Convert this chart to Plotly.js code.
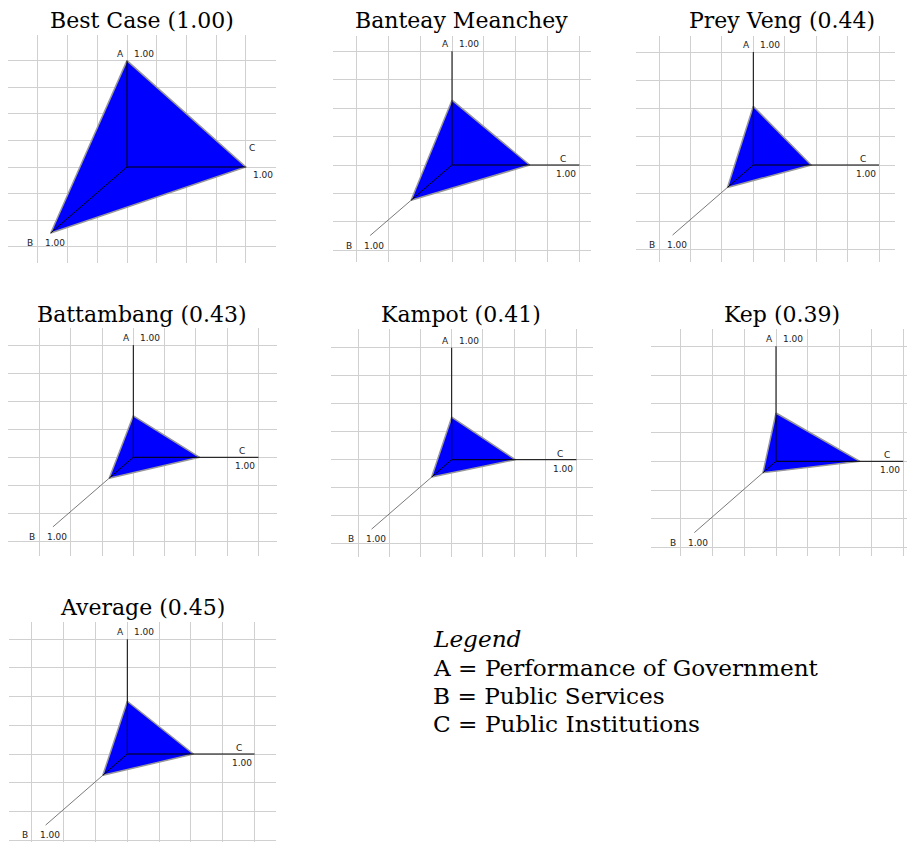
<!DOCTYPE html>
<html>
<head>
<meta charset="utf-8">
<script src="https://cdn.plot.ly/plotly-3.0.1.min.js"></script>
<style>html,body{margin:0;padding:0;background:#fff;}#chart{width:907px;height:842px;}</style>
</head>
<body>
<div id="chart"></div>
<script>
// ---- data ----
const regionNames = ["Best Case", "Banteay Meanchey", "Prey Veng", "Battambang", "Kampot", "Kep", "Average"];
const regionScores = [1.00, null, 0.44, 0.43, 0.41, 0.39, 0.45];
const valuesA = [1.00, 0.57, 0.52, 0.37, 0.38, 0.42, 0.46];
const valuesB = [1.00, 0.50, 0.32, 0.30, 0.25, 0.16, 0.30];
const valuesC = [1.00, 0.61, 0.46, 0.53, 0.51, 0.66, 0.52];
const axisMaxLabel = "1.00";
const legendKeys = ["A", "B", "C"];
const legendNames = ["Performance of Government", "Public Services", "Public Institutions"];
const legendTitle = "Legend";

// ---- layout geometry (pixels) ----
const W = 907, H = 842;
const L = 4;                 // grid units for a value of 1.00
const bDir = [-0.642, -0.62]; // oblique direction of axis B
const geo = [
  {ox:127,   oy:167,   sx:29.7,  sy:26.6,  x0:8,   x1:276, y0:35,  y1:263, tx:142,   ty:28,    best:true},
  {ox:452,   oy:165,   sx:31.86, sy:28.43, x0:333, x1:591, y0:36,  y1:262, tx:461.5, ty:28},
  {ox:753.3, oy:165,   sx:31.43, sy:28.24, x0:636, x1:895, y0:36,  y1:262, tx:781.5, ty:28},
  {ox:133.3, oy:457.3, sx:31.29, sy:28.04, x0:8,   x1:277, y0:328, y1:556, tx:142,   ty:321.7},
  {ox:451.7, oy:459.7, sx:31.19, sy:28.0,  x0:331, x1:593, y0:329, y1:557, tx:461,   ty:321.7},
  {ox:776,   oy:461.3, sx:31.8,  sy:28.76, x0:651, x1:907, y0:329, y1:556, tx:781.7, ty:321.7},
  {ox:127.3, oy:754,   sx:31.81, sy:28.67, x0:9,   x1:276, y0:622, y1:842, tx:142.5, ty:615}
];
const legendX = 432, legendBaselines = [646.7, 675, 703.3, 731.7];

const titleFont = {family: "DejaVu Serif", size: 22, color: "#000"};
const legendFont = {family: "DejaVu Serif", size: 23.2, color: "#000"};
const smallFont = {family: "DejaVu Sans", size: 9, color: "#222"};

const traces = [];
const layout = {
  width: W, height: H,
  margin: {l:0, r:0, t:0, b:0},
  paper_bgcolor: "#fff", plot_bgcolor: "#fff",
  showlegend: false, hovermode: false,
  annotations: []
};

regionNames.forEach((name, i) => {
  const g = geo[i];
  const s = i === 0 ? "" : String(i + 1);
  const xa = "x" + s, ya = "y" + s;
  const a = valuesA[i], b = valuesB[i], c = valuesC[i];
  const bEnd = [L * bDir[0], L * bDir[1]];
  const bPt = [L * b * bDir[0], L * b * bDir[1]];

  layout["xaxis" + s] = {
    domain: [g.x0 / W, g.x1 / W],
    range: [(g.x0 - g.ox) / g.sx, (g.x1 - g.ox) / g.sx],
    dtick: 1, tick0: 0, showgrid: true, gridcolor: "#d0d0d0", gridwidth: 1,
    zeroline: false, showline: false, showticklabels: false, ticks: "",
    fixedrange: true, anchor: ya
  };
  layout["yaxis" + s] = {
    domain: [1 - g.y1 / H, 1 - g.y0 / H],
    range: [(g.oy - g.y1) / g.sy, (g.oy - g.y0) / g.sy],
    dtick: 1, tick0: 0, showgrid: true, gridcolor: "#d0d0d0", gridwidth: 1,
    zeroline: false, showline: false, showticklabels: false, ticks: "",
    fixedrange: true, anchor: xa
  };

  // gray outer B axis
  traces.push({type: "scatter", mode: "lines", xaxis: xa, yaxis: ya,
    x: [0, bEnd[0]], y: [0, bEnd[1]], line: {color: "#7a7a7a", width: 1}});
  // filled triangle
  traces.push({type: "scatter", mode: "lines", xaxis: xa, yaxis: ya,
    x: [0, L * c, bPt[0], 0], y: [L * a, 0, bPt[1], L * a],
    fill: "toself", fillcolor: "#0000ff", line: {color: "#989898", width: 1.5}});
  // black axes A, C and inner B
  traces.push({type: "scatter", mode: "lines", xaxis: xa, yaxis: ya,
    x: [0, 0, null, 0, L, null, 0, bPt[0]],
    y: [0, L, null, 0, 0, null, 0, bPt[1]],
    line: {color: "#000", width: 1}});

  const ann = (x, y, text, xanchor, xshift, yshift) => layout.annotations.push({
    xref: xa, yref: ya, x: x, y: y, text: text, showarrow: false,
    xanchor: xanchor, yanchor: "middle", xshift: xshift, yshift: yshift,
    font: smallFont, borderpad: 0
  });
  // A labels
  ann(0, L, "A", "right", -2, 7);
  ann(0, L, axisMaxLabel, "left", 6, 7);
  // C labels
  if (g.best) {
    ann(L, 0, "C", "center", 6, 19);
    ann(L, 0, axisMaxLabel, "left", 6, -8);
  } else {
    ann(L, 0, "C", "center", -16, 6);
    ann(L, 0, axisMaxLabel, "right", -2, -9);
  }
  // B labels
  ann(bEnd[0], bEnd[1], "B", "right", -17, -10);
  ann(bEnd[0], bEnd[1], axisMaxLabel, "left", -7, -10);

  // title
  const sc = regionScores[i];
  const title = sc === null ? name : name + " (" + sc.toFixed(2) + ")";
  layout.annotations.push({
    xref: "paper", yref: "paper", x: g.tx / W, y: 1 - (g.ty - 7.5) / H,
    text: title, showarrow: false, xanchor: "center", yanchor: "middle",
    font: titleFont, borderpad: 0
  });
});

// legend text block
const legendLines = ["<i>" + legendTitle + "</i>"].concat(
  legendKeys.map((k, j) => k + " = " + legendNames[j]));
legendLines.forEach((t, j) => {
  layout.annotations.push({
    xref: "paper", yref: "paper", x: legendX / W, y: 1 - (legendBaselines[j] - 8) / H,
    text: t, showarrow: false, align: "left",
    xanchor: "left", yanchor: "middle", font: legendFont, borderpad: 0
  });
});

Plotly.newPlot("chart", traces, layout, {staticPlot: true, displayModeBar: false});
</script>
</body>
</html>
